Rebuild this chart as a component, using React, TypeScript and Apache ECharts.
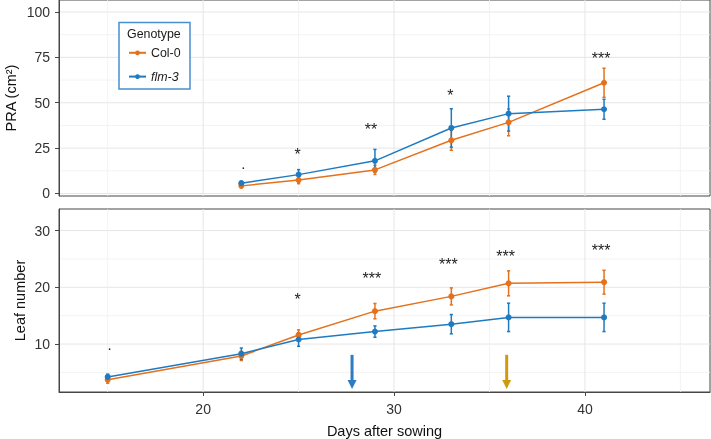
import React, { useEffect, useRef } from "react";
import * as echarts from "echarts";

// ---- data ----
const seriesNames = ["Col-0", "flm-3"];

const praDays = [22, 25, 29, 33, 36, 41];
const praCol0 = [4.2, 7.4, 13.0, 29.3, 39.2, 61.0];
const praCol0Err = [1.0, 2.0, 2.5, 5.5, 7.4, 8.0];
const praFlm3 = [5.7, 10.4, 18.0, 36.1, 44.0, 46.4];
const praFlm3Err = [1.0, 2.75, 6.3, 10.6, 9.6, 5.5];
const praSigDays = [22, 25, 29, 33, 41];
const praSigY = [14.2, 22.5, 36.3, 55.2, 75.2];
const praSigLabels = [".", "*", "**", "*", "***"];

const leafDays = [15, 22, 25, 29, 33, 36, 41];
const leafCol0 = [3.7, 7.9, 11.6, 15.8, 18.4, 20.7, 20.9];
const leafCol0Err = [0.6, 0.8, 0.9, 1.35, 1.5, 2.2, 2.1];
const leafFlm3 = [4.2, 8.3, 10.8, 12.2, 13.5, 14.7, 14.7];
const leafFlm3Err = [0.5, 1.0, 1.2, 1.0, 1.7, 2.5, 2.5];
const leafSigDays = [15, 25, 29, 33, 36, 41];
const leafSigY = [9.3, 18.2, 21.9, 24.4, 25.8, 26.8];
const leafSigLabels = [".", "*", "***", "***", "***", "***"];

const arrowDays = [27.8, 35.9];
const arrowTop = 8.1;
const arrowTip = 2.1;

const xTicks = [20, 30, 40];
const xMinorGrid = [15, 25, 35, 45];
const praTicks = [0, 25, 50, 75, 100];
const praMinorGrid = [12.5, 37.5, 62.5, 87.5];
const leafTicks = [10, 20, 30];
const leafMinorGrid = [5, 15, 25];

// ---- styles ----
const FONT = "'Liberation Sans', Arial, Helvetica, sans-serif";
const COLORS = ["#E5711D", "#1F7BC1"];
const ARROW_COLORS = ["#2E7BC4", "#CF9B0C"];
const BORDER = "#474747";
const GRID_MAJOR = "#E6E6E6";
const GRID_MINOR = "#F0F0F0";
const SIG_DX: Record<string, number> = { ".": 2, "*": -1, "**": -4, "***": -3 };
const SIG_DY: Record<string, number> = { ".": -4, "*": 2, "**": 2, "***": 2 };

function gridLineSeries(gi: number, horizontal: boolean, values: number[], major: boolean) {
  return {
    type: "custom",
    xAxisIndex: gi,
    yAxisIndex: gi,
    silent: true,
    z: 0,
    data: values.map((v) => (horizontal ? [30, v] : [v, gi === 0 ? 50 : 15])),
    encode: { x: 0, y: 1 },
    renderItem: (params: any, api: any) => {
      const cs = params.coordSys;
      const p = api.coord([api.value(0), api.value(1)]);
      const shape = horizontal
        ? { x1: cs.x, y1: p[1], x2: cs.x + cs.width, y2: p[1] }
        : { x1: p[0], y1: cs.y, x2: p[0], y2: cs.y + cs.height };
      return {
        type: "line",
        shape,
        style: { stroke: major ? GRID_MAJOR : GRID_MINOR, lineWidth: major ? 1 : 0.8 },
      };
    },
  };
}

function errorSeries(gi: number, name: string, days: number[], mean: number[], err: number[], color: string) {
  return {
    type: "custom",
    name,
    xAxisIndex: gi,
    yAxisIndex: gi,
    silent: true,
    z: 2,
    data: days.map((d, i) => [d, mean[i] - err[i], mean[i] + err[i]]),
    encode: { x: 0, y: [1, 2] },
    renderItem: (_params: any, api: any) => {
      const a = api.coord([api.value(0), api.value(2)]);
      const b = api.coord([api.value(0), api.value(1)]);
      const cap = 1.6;
      const st = { stroke: color, lineWidth: 1.5 };
      return {
        type: "group",
        children: [
          { type: "line", shape: { x1: a[0], y1: a[1], x2: b[0], y2: b[1] }, style: st },
          { type: "line", shape: { x1: a[0] - cap, y1: a[1], x2: a[0] + cap, y2: a[1] }, style: st },
          { type: "line", shape: { x1: b[0] - cap, y1: b[1], x2: b[0] + cap, y2: b[1] }, style: st },
        ],
      };
    },
  };
}

function lineSeries(gi: number, name: string, days: number[], mean: number[], color: string) {
  return {
    type: "line",
    name,
    xAxisIndex: gi,
    yAxisIndex: gi,
    data: days.map((d, i) => [d, mean[i]]),
    symbol: "circle",
    symbolSize: 6,
    showSymbol: true,
    z: 3,
    lineStyle: { color, width: 1.5 },
    itemStyle: { color },
    emphasis: { disabled: true },
  };
}

function sigSeries(gi: number, days: number[], ys: number[], labels: string[]) {
  return {
    type: "custom",
    xAxisIndex: gi,
    yAxisIndex: gi,
    silent: true,
    z: 4,
    data: days.map((d, i) => [d, ys[i], i]),
    encode: { x: 0, y: 1 },
    renderItem: (_params: any, api: any) => {
      const p = api.coord([api.value(0), api.value(1)]);
      const txt = labels[api.value(2)];
      const isDot = txt === ".";
      return {
        type: "text",
        x: p[0] + (SIG_DX[txt] ?? 0),
        y: p[1] + (SIG_DY[txt] ?? 0),
        style: {
          text: txt,
          fill: "#222",
          fontSize: isDot ? 15 : 16,
          fontFamily: FONT,
          align: "center",
          verticalAlign: "middle",
        },
      };
    },
  };
}

function arrowSeries() {
  return {
    type: "custom",
    xAxisIndex: 1,
    yAxisIndex: 1,
    silent: true,
    z: 3,
    data: arrowDays.map((d, i) => [d, arrowTop, arrowTip, i]),
    encode: { x: 0, y: [1, 2] },
    renderItem: (_params: any, api: any) => {
      const t = api.coord([api.value(0), api.value(1)]);
      const b = api.coord([api.value(0), api.value(2)]);
      const c = ARROW_COLORS[api.value(3)];
      const headH = 9;
      const headW = 4.5;
      return {
        type: "group",
        children: [
          {
            type: "line",
            shape: { x1: t[0], y1: t[1], x2: b[0], y2: b[1] - headH + 1 },
            style: { stroke: c, lineWidth: 3 },
          },
          {
            type: "polygon",
            shape: {
              points: [
                [b[0] - headW, b[1] - headH],
                [b[0] + headW, b[1] - headH],
                [b[0], b[1]],
              ],
            },
            style: { fill: c },
          },
        ],
      };
    },
  };
}

const axisLabelStyle = { fontSize: 14, color: "#333", fontFamily: FONT };
const axisNameStyle = { fontSize: 14.5, color: "#111", fontFamily: FONT };

export default function App() {
  const ref = useRef<HTMLDivElement>(null);
  useEffect(() => {
    if (!ref.current) return;
    const chart = echarts.init(ref.current, null, { renderer: "svg" });
    const option: any = {
      animation: false,
      textStyle: { fontFamily: FONT },
      grid: [
        {
          left: 59, right: 1, top: 0, height: 196, show: true, borderColor: BORDER, borderWidth: 1,
          backgroundColor: "#fff", containLabel: false, outerBoundsMode: "none",
        },
        {
          left: 59, right: 1, top: 209, height: 183, show: true, borderColor: BORDER, borderWidth: 1,
          backgroundColor: "#fff", containLabel: false, outerBoundsMode: "none",
        },
      ],
      xAxis: [
        {
          type: "value",
          gridIndex: 0,
          min: 12.45,
          max: 46.55,
          axisLine: { show: false },
          axisTick: { show: false },
          axisLabel: { show: false },
          splitLine: { show: false },
        },
        {
          type: "value",
          gridIndex: 1,
          min: 12.45,
          max: 46.55,
          axisLine: { show: true, lineStyle: { color: BORDER, width: 1 } },
          axisTick: { show: true, length: 4, customValues: xTicks, lineStyle: { color: BORDER } },
          axisLabel: { show: true, margin: 10, customValues: xTicks, ...axisLabelStyle },
          splitLine: { show: false },
          name: "Days after sowing",
          nameLocation: "middle",
          nameGap: 31,
          nameMoveOverlap: false,
          nameTextStyle: axisNameStyle,
        },
      ],
      yAxis: [
        {
          type: "value",
          gridIndex: 0,
          min: -1.38,
          max: 106.6,
          axisLine: { show: true, lineStyle: { color: BORDER, width: 1 } },
          axisTick: { show: true, length: 4, customValues: praTicks, lineStyle: { color: BORDER } },
          axisLabel: { show: true, margin: 9, customValues: praTicks, ...axisLabelStyle },
          splitLine: { show: false },
          name: "PRA (cm²)",
          nameLocation: "middle",
          nameGap: 40.75,
          nameMoveOverlap: false,
          nameTextStyle: axisNameStyle,
        },
        {
          type: "value",
          gridIndex: 1,
          min: 1.55,
          max: 33.8,
          axisLine: { show: true, lineStyle: { color: BORDER, width: 1 } },
          axisTick: { show: true, length: 4, customValues: leafTicks, lineStyle: { color: BORDER } },
          axisLabel: { show: true, margin: 9, customValues: leafTicks, ...axisLabelStyle },
          splitLine: { show: false },
          name: "Leaf number",
          nameLocation: "middle",
          nameGap: 31.75,
          nameMoveOverlap: false,
          nameTextStyle: axisNameStyle,
        },
      ],
      legend: {
        data: seriesNames,
        orient: "vertical",
        left: 128,
        top: 46.8,
        itemWidth: 17,
        itemHeight: 6,
        itemGap: 11.8,
        padding: 0,
        selectedMode: false,
        z: 10,
        formatter: (n: string) => (n === "flm-3" ? "{it|flm-3}" : n),
        textStyle: {
          fontSize: 12.4,
          color: "#1a1a1a",
          fontFamily: FONT,
          rich: { it: { fontStyle: "italic", fontSize: 12.4, color: "#1a1a1a", fontFamily: FONT } },
        },
      },
      graphic: [
        {
          type: "rect",
          z: 5,
          shape: { x: 119, y: 22.5, width: 71, height: 66.5 },
          style: { fill: "#fff", stroke: "#4A8FD0", lineWidth: 1.5 },
        },
        {
          type: "text",
          z: 10,
          x: 127,
          y: 34,
          style: { text: "Genotype", fontSize: 12.4, fill: "#1a1a1a", fontFamily: FONT, verticalAlign: "middle" },
        },
      ],
      series: [
        lineSeries(0, "Col-0", praDays, praCol0, COLORS[0]),
        lineSeries(0, "flm-3", praDays, praFlm3, COLORS[1]),
        lineSeries(1, "Col-0", leafDays, leafCol0, COLORS[0]),
        lineSeries(1, "flm-3", leafDays, leafFlm3, COLORS[1]),
        gridLineSeries(0, true, praMinorGrid, false),
        gridLineSeries(0, true, praTicks, true),
        gridLineSeries(0, false, xMinorGrid, false),
        gridLineSeries(0, false, xTicks, true),
        gridLineSeries(1, true, leafMinorGrid, false),
        gridLineSeries(1, true, leafTicks, true),
        gridLineSeries(1, false, xMinorGrid, false),
        gridLineSeries(1, false, xTicks, true),
        errorSeries(0, "Col-0 err", praDays, praCol0, praCol0Err, COLORS[0]),
        errorSeries(0, "flm-3 err", praDays, praFlm3, praFlm3Err, COLORS[1]),
        errorSeries(1, "Col-0 err", leafDays, leafCol0, leafCol0Err, COLORS[0]),
        errorSeries(1, "flm-3 err", leafDays, leafFlm3, leafFlm3Err, COLORS[1]),
        sigSeries(0, praSigDays, praSigY, praSigLabels),
        sigSeries(1, leafSigDays, leafSigY, leafSigLabels),
        arrowSeries(),
      ],
    };
    chart.setOption(option);
    return () => chart.dispose();
  }, []);
  return <div ref={ref} style={{ position: "fixed", left: 0, top: 0, width: 711, height: 439 }} />;
}
